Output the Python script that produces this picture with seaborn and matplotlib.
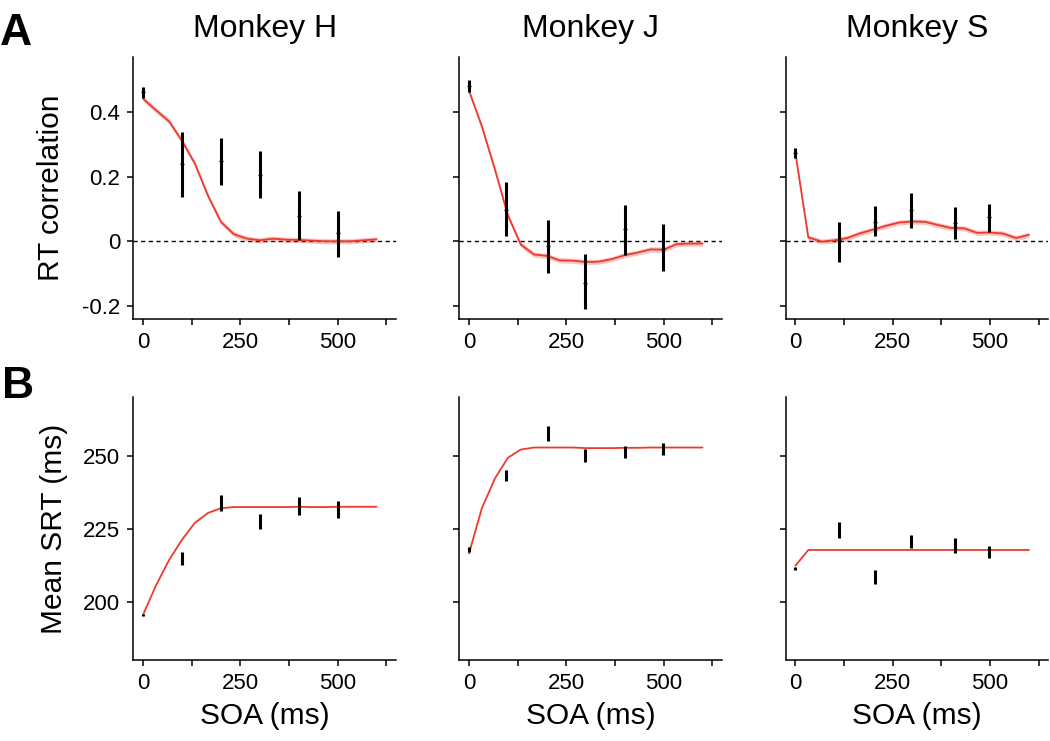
import numpy as np
import pandas as pd
import matplotlib
matplotlib.use('Agg')
import matplotlib.pyplot as plt
import seaborn as sns

sns.set_style('ticks')
plt.rcParams['font.family'] = ['Liberation Sans', 'DejaVu Sans']
plt.rcParams['text.color'] = 'black'
plt.rcParams['axes.labelcolor'] = 'black'
plt.rcParams['xtick.color'] = 'black'
plt.rcParams['ytick.color'] = 'black'
plt.rcParams['axes.edgecolor'] = 'black'

monkeys = ['Monkey H', 'Monkey J', 'Monkey S']

# measured SOAs (ms) for the data points, per monkey
soa_h = [0, 100, 200, 300, 400, 500]
soa_j = [0, 94, 203, 299, 400, 498]
soa_s = [0, 112, 204, 296, 409, 497]

# A: RT correlation, mean and error bar ends
corr_h = [0.46, 0.240, 0.248, 0.204, 0.078, 0.026]
corr_lo_h = [0.441, 0.137, 0.173, 0.134, 0.003, -0.048]
corr_hi_h = [0.477, 0.338, 0.318, 0.279, 0.156, 0.094]

corr_j = [0.48, 0.098, -0.015, -0.130, 0.039, -0.024]
corr_lo_j = [0.462, 0.015, -0.098, -0.210, -0.041, -0.093]
corr_hi_j = [0.499, 0.183, 0.065, -0.039, 0.112, 0.052]

corr_s = [0.272, 0.004, 0.061, 0.097, 0.056, 0.076]
corr_lo_s = [0.257, -0.063, 0.017, 0.042, 0.006, 0.030]
corr_hi_s = [0.288, 0.061, 0.110, 0.149, 0.107, 0.116]

# B: mean SRT (ms), mean and error bar ends
srt_h = [195.5, 214.7, 233.8, 227.4, 232.7, 231.6]
srt_lo_h = [195.1, 212.6, 230.9, 224.8, 229.7, 228.6]
srt_hi_h = [195.9, 216.9, 236.6, 230.0, 235.7, 234.6]

srt_j = [217.8, 243.3, 257.7, 250.1, 251.2, 252.2]
srt_lo_j = [217.0, 241.4, 255.2, 247.9, 249.1, 250.2]
srt_hi_j = [218.7, 245.1, 260.2, 252.3, 253.3, 254.2]

srt_s = [211.5, 224.5, 208.5, 220.7, 219.3, 216.9]
srt_lo_s = [210.9, 221.7, 206.2, 218.4, 216.7, 214.8]
srt_hi_s = [212.0, 227.2, 210.8, 223.0, 221.8, 218.9]

# model curves
curve_soa = [0, 33, 67, 100, 133, 167, 200, 233, 267, 300,
             333, 367, 400, 433, 467, 500, 533, 567, 600]

fit_corr_h = [0.44, 0.405, 0.37, 0.31, 0.24, 0.14, 0.06, 0.022, 0.008, 0.003,
              0.008, 0.005, 0.004, 0.002, 0.0, 0.0, 0.0, 0.003, 0.006]
fit_corr_j = [0.465, 0.355, 0.22, 0.08, -0.01, -0.041, -0.045, -0.059, -0.06, -0.064,
              -0.063, -0.055, -0.043, -0.035, -0.025, -0.026, -0.009, -0.007, -0.007]
fit_corr_s = [0.272, 0.012, -0.001, 0.003, 0.01, 0.025, 0.036, 0.048, 0.058, 0.061,
              0.06, 0.05, 0.041, 0.04, 0.026, 0.027, 0.024, 0.01, 0.02]
fit_corr_se = [0.008, 0.008, 0.008]

fit_srt_h = [195.5, 205.5, 214.3, 221.2, 227.0, 230.4, 232.0, 232.4, 232.4, 232.4,
             232.4, 232.4, 232.5, 232.4, 232.4, 232.5, 232.5, 232.5, 232.5]
fit_srt_j = [216.5, 232.0, 242.3, 249.3, 252.1, 252.8, 252.8, 252.8, 252.8, 252.6,
             252.6, 252.6, 252.7, 252.7, 252.8, 252.8, 252.8, 252.8, 252.8]
fit_srt_s = [212.3, 217.7, 217.7, 217.7, 217.7, 217.7, 217.7, 217.7, 217.7, 217.7,
             217.7, 217.7, 217.7, 217.7, 217.7, 217.7, 217.7, 217.7, 217.7]

soas = [soa_h, soa_j, soa_s]
corr = [(corr_h, corr_lo_h, corr_hi_h), (corr_j, corr_lo_j, corr_hi_j), (corr_s, corr_lo_s, corr_hi_s)]
srt = [(srt_h, srt_lo_h, srt_hi_h), (srt_j, srt_lo_j, srt_hi_j), (srt_s, srt_lo_s, srt_hi_s)]
fit_corr = [fit_corr_h, fit_corr_j, fit_corr_s]
fit_srt = [fit_srt_h, fit_srt_j, fit_srt_s]

red = '#ee3a2c'
fig = plt.figure(figsize=(10.5, 7.41), dpi=100)

lefts = [0.127, 0.4374, 0.7483]
w = 0.2502
axes_top = [fig.add_axes([l, 0.5695, w, 0.354]) for l in lefts]
axes_bot = [fig.add_axes([l, 0.1093, w, 0.3545]) for l in lefts]


def draw_points(ax, x, m, lo, hi, mark=True):
    m = np.array(m)
    ax.errorbar(x, m, yerr=[m - np.array(lo), np.array(hi) - m], fmt='none',
                ecolor='k', elinewidth=2.2, capsize=0, zorder=4)
    if mark:
        sns.scatterplot(x=x, y=m, ax=ax, marker='_', s=8, color='k',
                        edgecolor='k', linewidth=1.0, zorder=5)


def style_x(ax):
    ax.set_xlim(-25, 650)
    ax.set_xticks([0, 250, 500])
    ax.set_xticks([125, 375, 625], minor=True)
    ax.tick_params(axis='both', which='both', length=4.5, width=1.1,
                   labelsize=16, pad=5)
    for s in ['left', 'bottom']:
        ax.spines[s].set_linewidth(1.1)
    sns.despine(ax=ax)


for i, ax in enumerate(axes_top):
    df = pd.DataFrame({'soa': curve_soa, 'r': fit_corr[i]})
    se = fit_corr_se[i]
    ax.fill_between(df['soa'], df['r'] - se, df['r'] + se, color=red,
                    alpha=0.3, lw=0, zorder=2)
    sns.lineplot(data=df, x='soa', y='r', ax=ax, color=red, lw=1.3, zorder=3)
    ax.axhline(0, color='k', ls=(0, (3, 2.5)), lw=1.0, zorder=1)
    draw_points(ax, soas[i], *corr[i])
    ax.set_ylim(-0.24, 0.57)
    ax.set_yticks([-0.2, 0, 0.2, 0.4])
    style_x(ax)
    ax.set_xticklabels(['0', '250', '500'])
    ax.set_xlabel('')
    ax.set_title(monkeys[i], fontsize=23, pad=14)
    if i == 0:
        ax.set_yticklabels(['-0.2', '0', '0.2', '0.4'])
        ax.set_ylabel('RT correlation', fontsize=21.5)
        ax.yaxis.set_label_coords(-0.262, 0.5)
    else:
        ax.set_yticklabels([])
        ax.set_ylabel('')

for i, ax in enumerate(axes_bot):
    df = pd.DataFrame({'soa': curve_soa, 'srt': fit_srt[i]})
    sns.lineplot(data=df, x='soa', y='srt', ax=ax, color=red, lw=1.3, zorder=3)
    draw_points(ax, soas[i], *srt[i], mark=False)
    ax.set_ylim(180, 270)
    ax.set_yticks([200, 225, 250])
    style_x(ax)
    ax.set_xticklabels(['0', '250', '500'])
    ax.set_xlabel('SOA (ms)', fontsize=21.5)
    ax.xaxis.set_label_coords(0.5, -0.16)
    if i == 0:
        ax.set_ylabel('Mean SRT (ms)', fontsize=21.5)
        ax.yaxis.set_label_coords(-0.25, 0.5)
    else:
        ax.set_yticklabels([])
        ax.set_ylabel('')

fig.text(0.0, 1 - 45 / 741, 'A', fontsize=32, fontweight='bold', va='baseline')
fig.text(0.002, 1 - 398 / 741, 'B', fontsize=32, fontweight='bold', va='baseline')

fig.savefig('out.png', dpi=100)
